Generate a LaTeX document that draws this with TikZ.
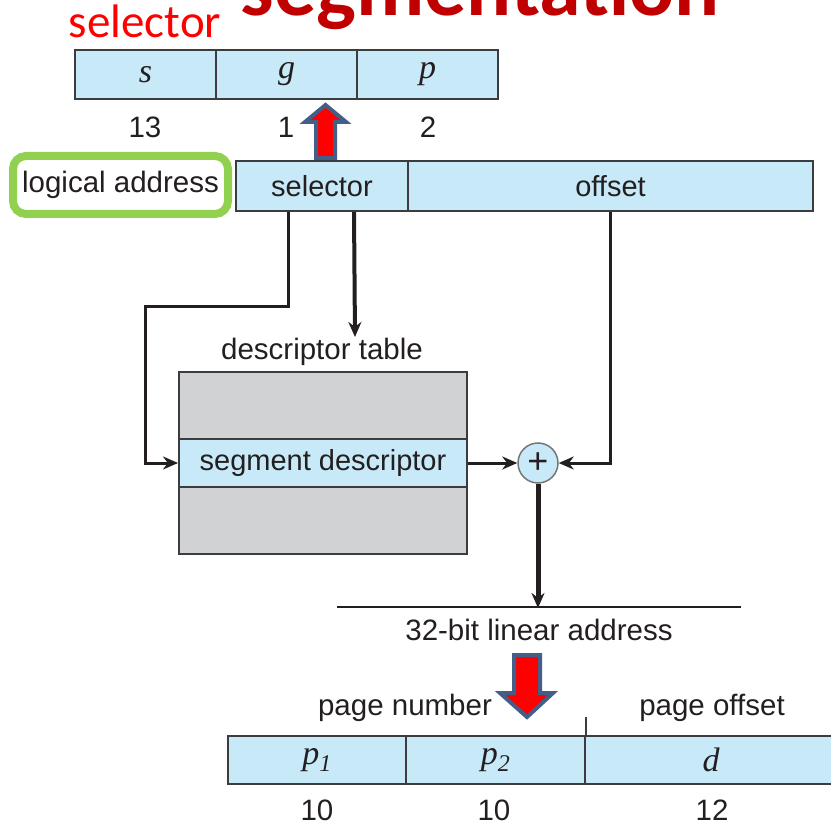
\documentclass[tikz,border=0pt]{standalone}
\usepackage{fontspec}
\setmainfont{Liberation Sans}
\newfontfamily\calfont{Carlito}
\newfontfamily\timfont{Liberation Serif}
\usetikzlibrary{arrows.meta,calc}
\definecolor{lblue}{RGB}{200,233,248}
\definecolor{lgray}{RGB}{209,210,212}
\definecolor{edge}{RGB}{60,60,62}
\definecolor{ink}{RGB}{35,31,32}
\definecolor{lgreen}{RGB}{146,208,80}
\definecolor{titlered}{RGB}{192,0,0}
\definecolor{arrowblue}{RGB}{68,94,135}
\tikzset{
  cell/.style={draw=edge, line width=2pt, fill=lblue, inner sep=0pt, text=ink, font=\fontsize{29}{34}\selectfont},
  mathcell/.style={cell, font=\timfont\itshape\fontsize{34}{38}\selectfont},
  lbl/.style={inner sep=0pt, text=ink, font=\fontsize{29.5}{34}\selectfont},
  conn/.style={draw=ink, line width=3pt, -{Stealth[length=15pt,width=13pt]}},
  blockarrow/.style={draw=arrowblue, line width=4pt, fill=red, line join=miter}
}
\begin{document}
\begin{tikzpicture}[x=1pt,y=-1pt]
\useasboundingbox (0,0) rectangle (831,824);
\clip (0,0) rectangle (831,824);
% title
\node[anchor=base, inner sep=0pt, text=titlered, font=\calfont\bfseries\fontsize{84}{90}\selectfont] (title) at (480,16) {segmentation};
\node[anchor=base, inner sep=0pt, text=red, font=\calfont\fontsize{47}{52}\selectfont] (sellbl) at (145,38) {selector};
% top selector box
\node[mathcell, minimum width=141pt, minimum height=49pt] (ts) at (145.5,74.5) {s};
\node[mathcell, minimum width=141pt, minimum height=49pt] (tg) at (286.5,74.5) {g};
\node[mathcell, minimum width=141pt, minimum height=49pt] (tp) at (427.5,74.5) {p};
\node[lbl] (n13) at (145,127) {13};
\node[lbl] (n1) at (286,127) {1};
\node[lbl] (n2) at (428,127) {2};
% up block arrow
\draw[blockarrow] (325.5,105) -- (346,122) -- (335,122) -- (335,158) -- (316,158) -- (316,122) -- (305,122) -- cycle;
% logical address
\node[draw=lgreen, line width=8pt, rounded corners=13pt, fill=white, minimum width=215pt, minimum height=58pt, inner sep=0pt, text=ink, font=\fontsize{29.5}{34}\selectfont] (la) at (120.5,185) {logical address};
\node[cell, minimum width=172pt, minimum height=50pt] (sel) at (322,186) {selector};
\node[cell, minimum width=405pt, minimum height=50pt] (off) at (610.5,186) {offset};
% descriptor table
\node[lbl] (dtl) at (322,352) {descriptor table};
\node[draw=edge, line width=2pt, fill=lgray, minimum width=288pt, minimum height=182pt, inner sep=0pt] (tab) at (323,463) {};
\node[cell, minimum width=288pt, minimum height=48pt] (seg) at (323,463) {segment descriptor};
% adder
\node[circle, draw=edge!70, line width=1.5pt, fill=lblue, minimum size=40pt, inner sep=0pt, text=ink, font=\fontsize{36}{38}\selectfont] (plus) at (538,463) {+};
% linear address
\coordinate (linL) at (337,607);
\coordinate (linR) at (741,607);
\coordinate (linM) at (538,607);
\draw[ink, line width=1.5pt] (linL) -- (linR);
\node[lbl] (lintext) at (539,630) {32-bit linear address};
% connectors
\coordinate (dtip) at (355,337);
\draw[conn] ([xshift=53pt]sel.south west) |- (145,306) |- (seg.west);
\draw[conn, line width=4pt] ([xshift=119pt]sel.south west) -- (dtip);
\draw[conn] (off.south) |- (plus.east);
\draw[conn] (seg.east) -- (plus.west);
\draw[conn, line width=5pt] (plus.south) -- ([yshift=-1pt]linM);
% down block arrow
\draw[blockarrow] (514,655) -- (540,655) -- (540,693) -- (553,693) -- (527,717) -- (500,693) -- (514,693) -- cycle;
% page number
\node[lbl] (pn) at (405,708) {page number};
\node[lbl] (po) at (712,708) {page offset};
\node[mathcell, minimum width=178pt, minimum height=48pt] (p1) at (317,760) {p\textsubscript{\fontsize{24}{26}\selectfont 1}};
\node[mathcell, minimum width=179pt, minimum height=48pt] (p2) at (495.5,760) {p\textsubscript{\fontsize{24}{26}\selectfont 2}};
\node[mathcell, minimum width=252pt, minimum height=48pt] (pd) at (711,760) {d};
\draw[edge, line width=2pt] (p2.north east) -- ++(0,-18);
\node[lbl] (n10a) at (317,810) {10};
\node[lbl] (n10b) at (494,810) {10};
\node[lbl] (n12) at (712,810) {12};
\end{tikzpicture}
\end{document}
